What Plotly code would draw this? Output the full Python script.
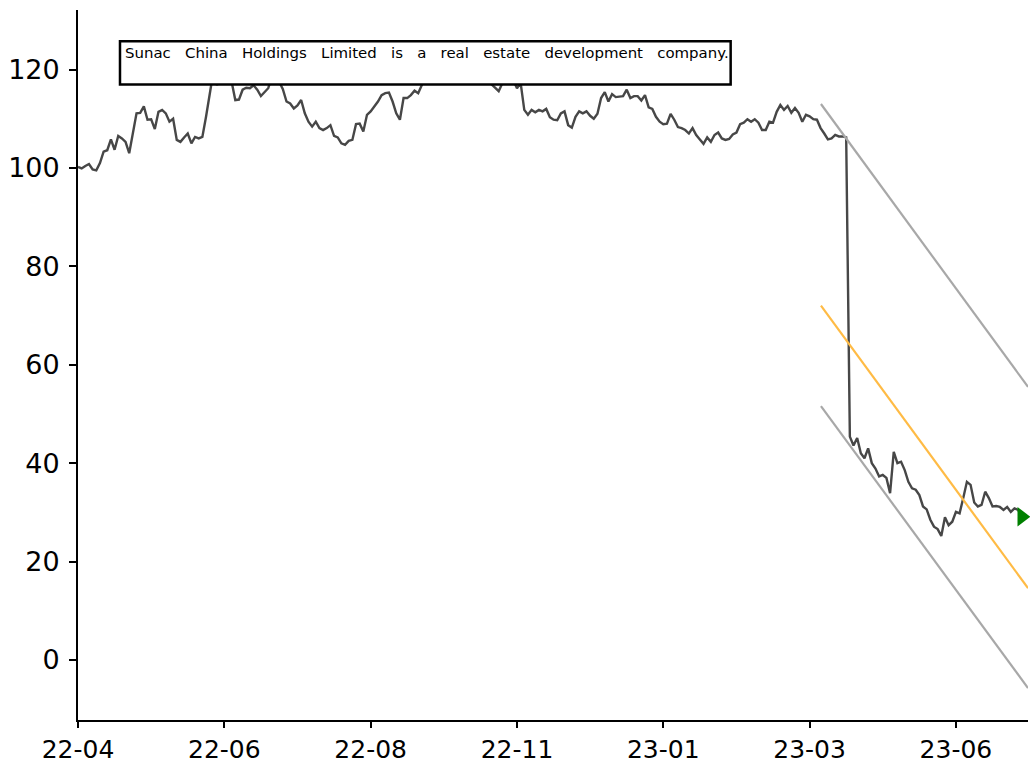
import plotly.graph_objects as go

# ---- data ----
price = [
    100.2, 99.9, 100.4, 100.8, 99.7, 99.5, 101.0, 103.3, 103.6, 105.8,
    103.7, 106.5, 106.0, 105.3, 103.0, 107.4, 111.1, 111.2, 112.5, 109.8,
    109.9, 107.9, 111.4, 111.8, 111.1, 109.4, 110.0, 105.7, 105.3, 106.2,
    107.0, 105.0, 106.3, 106.0, 106.3, 110.4, 115.2, 119.5, 116.8, 119.8,
    121.5, 120.5, 117.5, 113.8, 113.9, 115.9, 116.3, 116.2, 116.8, 115.9,
    114.6, 115.5, 116.2, 118.5, 119.0, 117.5, 116.0, 113.5, 113.1, 112.1,
    112.7, 113.8, 111.1, 109.4, 108.4, 109.4, 108.1, 107.7, 108.1, 108.7,
    106.5, 106.2, 105.0, 104.7, 105.5, 105.7, 108.9, 109.0, 107.4, 110.8,
    111.5, 112.5, 113.5, 114.8, 115.2, 115.3, 113.5, 111.1, 109.8, 114.2,
    114.2, 114.8, 115.7, 115.2, 117.0, 118.5, 120.2, 119.4, 121.0, 122.5,
    121.8, 123.4, 124.2, 122.6, 121.5, 122.8, 121.0, 119.8, 120.6, 119.2,
    118.5, 119.6, 118.0, 117.0, 116.3, 115.6, 117.2, 118.4, 119.0, 117.8,
    116.2, 117.3, 111.8, 110.8, 111.8, 111.3, 111.8, 111.5, 112.0, 110.3,
    109.8, 109.7, 111.1, 111.5, 108.7, 108.2, 110.4, 111.5, 111.1, 111.5,
    110.6, 110.0, 111.0, 114.2, 115.4, 113.5, 115.0, 114.4, 114.5, 114.6,
    115.9, 114.2, 114.6, 114.6, 113.7, 114.8, 112.3, 112.0, 110.4, 109.4,
    108.9, 109.0, 111.0, 109.8, 108.3, 108.1, 107.7, 107.0, 108.1, 106.7,
    105.8, 104.9, 106.2, 105.3, 106.7, 107.2, 106.0, 105.7, 105.9, 106.8,
    107.2, 108.9, 109.2, 109.9, 109.4, 109.9, 109.2, 107.7, 107.7, 109.4,
    109.2, 111.4, 112.8, 111.8, 112.6, 111.2, 112.2, 111.2, 109.4, 110.8,
    110.5, 109.9, 109.8, 108.1, 107.0, 105.8, 106.0, 106.7, 106.4, 106.4,
    106.2, 45.4, 43.6, 45.1, 42.0, 41.0, 43.0, 40.0, 38.9, 37.3,
    37.6, 37.0, 33.9, 42.3, 40.0, 40.3, 38.6, 36.2, 34.9, 34.6,
    33.5, 31.2, 30.6, 28.5, 27.1, 26.6, 25.2, 29.0, 27.4, 28.1,
    30.1, 29.8, 32.9, 36.2, 35.6, 32.0, 31.2, 31.5, 34.2, 32.9,
    31.2, 31.3, 31.1, 30.5, 31.1, 30.1, 30.8, 30.5, 29.1,
]
day_index = list(range(len(price)))

tick_positions = [0, 40, 80, 120, 160, 200, 240]
tick_labels = ["22-04", "22-06", "22-08", "22-11", "23-01", "23-03", "23-06"]
y_ticks = [0, 20, 40, 60, 80, 100, 120]

channel_x = [203.1, 259.7]
channel_upper = [113.0, 55.5]
channel_mid = [72.0, 14.6]
channel_lower = [51.6, -5.7]

description = "Sunac China Holdings Limited is a real estate development company."

# ---- figure ----
fig = go.Figure()
fig.add_trace(go.Scatter(x=day_index, y=price, mode="lines",
                         line=dict(color="#474747", width=2.4), showlegend=False))
fig.add_trace(go.Scatter(x=channel_x, y=channel_upper, mode="lines",
                         line=dict(color="#a8a8a8", width=2.2), showlegend=False))
fig.add_trace(go.Scatter(x=channel_x, y=channel_mid, mode="lines",
                         line=dict(color="#ffbb45", width=2.2), showlegend=False))
fig.add_trace(go.Scatter(x=channel_x, y=channel_lower, mode="lines",
                         line=dict(color="#a8a8a8", width=2.2), showlegend=False))
fig.add_trace(go.Scatter(x=[day_index[-1]], y=[price[-1]], mode="markers",
                         marker=dict(symbol="triangle-right", color="green", size=17),
                         cliponaxis=False, showlegend=False))

gap = "\u00a0\u00a0 "
text = gap.join(description.split(" "))

fig.add_shape(type="rect", xref="paper", yref="paper",
              x0=0.0442, x1=0.687, y0=0.895, y1=0.956,
              fillcolor="white", line=dict(color="black", width=2.5), layer="above")
fig.add_annotation(xref="paper", yref="paper", x=0.0475, y=0.939,
                   xanchor="left", yanchor="middle", showarrow=False,
                   text=text, font=dict(family="DejaVu Sans", size=14.95, color="black"))

axis_common = dict(showline=True, linecolor="black", linewidth=1.8, ticks="outside",
                   tickwidth=1.8, tickcolor="black", showgrid=False,
                   zeroline=False, mirror=False, automargin=False)
fig.update_xaxes(range=[0, 259.7], tickmode="array", tickvals=tick_positions,
                 ticktext=tick_labels, ticklen=6, ticklabelstandoff=0,
                 tickfont=dict(family="DejaVu Sans", size=25, color="black"),
                 **axis_common)
fig.update_yaxes(range=[-12.2, 132.1], tickmode="array", tickvals=y_ticks,
                 ticklen=7, ticklabelstandoff=4,
                 tickfont=dict(family="DejaVu Sans", size=27, color="black"),
                 **axis_common)

fig.update_layout(width=1030, height=764, plot_bgcolor="white", paper_bgcolor="white",
                  margin=dict(l=78, r=2, t=10, b=44), showlegend=False)

fig.write_html(
    "out.html",
    config={"displayModeBar": False},
    post_script="document.body.style.margin='0';document.body.style.overflow='hidden';",
)
